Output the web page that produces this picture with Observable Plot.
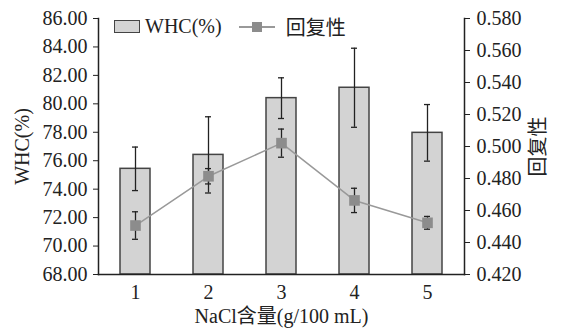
<!DOCTYPE html>
<html>
<head>
<meta charset="utf-8">
<script src="https://cdn.jsdelivr.net/npm/d3@7"></script>
<script src="https://cdn.jsdelivr.net/npm/@observablehq/plot@0.6"></script>
<style>
  html, body { margin: 0; padding: 0; background: #fff; }
  #wrap { position: relative; width: 562px; height: 328px; font-family: 'Liberation Serif', 'Noto Sans CJK SC', serif; }
  .legend { position: absolute; top: 12px; left: 114px; display: flex; align-items: center; font-size: 20px; color: #222; white-space: nowrap; }
  .sw-bar { width: 24px; height: 11px; background: #d3d3d3; border: 1.5px solid #444; margin-right: 5px; }
  .sw-line { position: relative; width: 36px; height: 2px; background: #999; margin: 0 11px 0 17px; }
  .sw-line::after { content: ""; position: absolute; left: 13px; top: -4px; width: 10px; height: 10px; background: #8c8c8c; }
</style>
</head>
<body>
<div id="wrap">
  <div id="chart"></div>
  <div class="legend"><span class="sw-bar"></span><span>WHC(%)</span><span class="sw-line"></span><span>回复性</span></div>
</div>
<script>
const categories = ["1", "2", "3", "4", "5"];
const whc = [75.43, 76.41, 80.40, 81.13, 77.96];
const whcErr = [1.53, 2.68, 1.43, 2.78, 1.99];
const resil = [0.4506, 0.4814, 0.5021, 0.4663, 0.4523];
const resilErr = [0.0086, 0.0048, 0.0088, 0.0076, 0.0040];
const leftTicks = [68, 70, 72, 74, 76, 78, 80, 82, 84, 86];
const rightTicks = [0.42, 0.44, 0.46, 0.48, 0.50, 0.52, 0.54, 0.56, 0.58];

// map the right-axis (回复性) values onto the left-axis domain
const r2l = d3.scaleLinear([0.42, 0.58], [68, 86]);

const data = categories.map((c, i) => ({
  c,
  whc: whc[i], whcLo: whc[i] - whcErr[i], whcHi: whc[i] + whcErr[i],
  r: r2l(resil[i]), rLo: r2l(resil[i] - resilErr[i]), rHi: r2l(resil[i] + resilErr[i])
}));

const ink = "#222";
const chart = Plot.plot({
  width: 562,
  height: 328,
  marginLeft: 98,
  marginRight: 98,
  marginTop: 18,
  marginBottom: 54,
  style: { fontFamily: "'Liberation Serif', 'Noto Sans CJK SC', serif", fontSize: "20px", color: ink, background: "#fff" },
  x: { type: "band", domain: categories, paddingInner: 0.59, paddingOuter: 0.295 },
  y: { domain: [68, 86] },
  marks: [
    Plot.barY(data, { x: "c", y1: 68, y2: "whc", fill: "#d3d3d3", stroke: "#444", strokeWidth: 1.5 }),
    Plot.ruleX(data, { x: "c", y1: "whcLo", y2: "whcHi", stroke: ink, strokeWidth: 1.3 }),
    Plot.tickY(data, { x: "c", y: "whcLo", stroke: ink, strokeWidth: 1.3, insetLeft: 12, insetRight: 12 }),
    Plot.tickY(data, { x: "c", y: "whcHi", stroke: ink, strokeWidth: 1.3, insetLeft: 12, insetRight: 12 }),
    Plot.line(data, { x: "c", y: "r", stroke: "#999", strokeWidth: 1.5 }),
    Plot.ruleX(data, { x: "c", y1: "rLo", y2: "rHi", stroke: ink, strokeWidth: 1.3 }),
    Plot.tickY(data, { x: "c", y: "rLo", stroke: ink, strokeWidth: 1.3, insetLeft: 12, insetRight: 12 }),
    Plot.tickY(data, { x: "c", y: "rHi", stroke: ink, strokeWidth: 1.3, insetLeft: 12, insetRight: 12 }),
    Plot.dot(data, { x: "c", y: "r", symbol: "square", r: 6, fill: "#8c8c8c", stroke: "none" }),
    Plot.axisX({ tickSize: 0, tickPadding: 10, label: "NaCl含量(g/100 mL)", labelAnchor: "center", labelOffset: 48, fontSize: 20 }),
    Plot.axisY({ anchor: "left", ticks: leftTicks, tickFormat: d => d.toFixed(2), tickSize: 5, tickPadding: 6,
      label: "WHC(%)", labelAnchor: "center", labelArrow: "none", labelOffset: 84, fontSize: 20 }),
    Plot.axisY({ anchor: "right", ticks: rightTicks.map(v => r2l(v)), tickFormat: d => r2l.invert(d).toFixed(3),
      tickSize: 5, tickPadding: 7, label: "回复性", labelAnchor: "center", labelArrow: "none", labelOffset: 80, fontSize: 20 }),
    Plot.frame({ anchor: "left", stroke: ink, strokeWidth: 1.5 }),
    Plot.frame({ anchor: "right", stroke: ink, strokeWidth: 1.5 }),
    Plot.frame({ anchor: "bottom", stroke: ink, strokeWidth: 1.5 })
  ]
});
document.getElementById("chart").appendChild(chart);
</script>
</body>
</html>
